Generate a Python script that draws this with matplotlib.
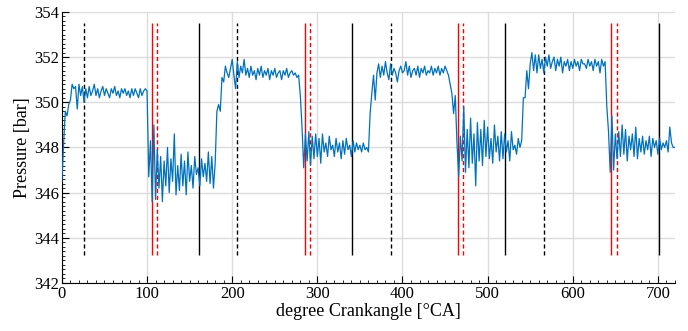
import matplotlib
matplotlib.use("Agg")
import matplotlib.pyplot as plt
import numpy as np
from matplotlib.ticker import MultipleLocator

# pressure samples every 2 degCA, 0..720
crank_angle = np.arange(0, 722, 2)
pressure = [
    346.5, 348.2, 349.6, 349.4, 349.9, 350.1, 350.8, 350.6, 350.7, 349.7,
    350.8, 350.3, 350.7, 350.0, 350.6, 350.2, 350.7, 350.3, 350.5, 350.8,
    350.3, 350.6, 350.2, 350.5, 350.7, 350.3, 350.6, 350.4, 350.2, 350.6,
    350.4, 350.7, 350.3, 350.5, 350.2, 350.6, 350.4, 350.6, 350.3, 350.5,
    350.2, 350.6, 350.3, 350.6, 350.4, 350.2, 350.6, 350.3, 350.5, 350.6,
    350.5, 346.7, 348.3, 345.6, 349.0, 345.7, 347.9, 346.2, 347.6, 345.6,
    347.4, 346.3, 348.0, 346.0, 347.5, 346.5, 348.6, 345.9, 347.2, 346.1,
    347.7, 346.3, 347.4, 345.9, 347.8, 346.5, 347.2, 346.2, 347.6, 346.8,
    347.1, 346.3, 347.5, 346.7, 347.3, 346.5, 347.8, 346.4, 347.6, 346.2,
    347.3, 349.6, 349.9, 349.6, 351.1, 350.9, 351.6, 351.3, 351.1, 351.5,
    351.9, 351.2, 350.6, 351.8, 351.1, 351.6, 351.3, 351.9, 351.2, 351.5,
    351.1, 351.6, 351.2, 351.4, 351.0, 351.5, 351.2, 351.6, 351.1, 351.4,
    351.2, 351.5, 351.0, 351.4, 351.2, 351.5, 351.1, 351.3, 351.4, 351.0,
    351.4, 351.2, 351.5, 351.1, 351.3, 351.4, 351.2, 351.3, 351.1, 351.2,
    350.3, 348.9, 347.1, 348.6, 347.4, 348.7, 347.2, 348.5, 347.5, 348.6,
    347.6, 348.4, 347.3, 348.6, 347.8, 348.2, 347.6, 348.5, 347.9, 348.1,
    347.6, 348.4, 347.8, 348.2, 347.5, 348.3, 347.7, 348.4, 347.9, 348.1,
    347.6, 348.3, 347.8, 348.2, 347.9, 348.1, 347.8, 348.2, 347.9, 348.0,
    347.8, 349.5, 350.4, 351.2, 350.1, 351.3, 351.7, 351.1, 351.6, 351.2,
    351.8, 351.3, 351.0, 351.7, 351.2, 351.5, 351.3, 350.9, 351.4, 351.6,
    351.3, 351.4, 351.8, 351.2, 351.6, 351.1, 351.4, 351.5, 351.2, 351.6,
    351.1, 351.5, 351.3, 351.6, 351.2, 351.4, 351.3, 351.6, 351.2, 351.5,
    351.3, 351.6, 351.2, 351.5, 351.3, 351.6, 351.4, 351.2, 350.8, 350.4,
    349.5, 350.3, 348.2, 346.7, 348.5, 347.4, 349.8, 346.9, 348.8, 347.1,
    349.3, 347.3, 348.6, 346.3, 349.1, 347.4, 348.8, 347.2, 349.2, 347.6,
    348.9, 347.5, 348.4, 347.3, 349.0, 347.8, 348.5, 347.4, 348.7, 347.5,
    348.6, 347.8, 348.3, 347.4, 348.7, 347.9, 348.1, 347.7, 348.4, 348.0,
    348.3, 350.2, 350.2, 351.4, 350.6, 351.7, 352.2, 351.4, 352.1, 351.3,
    352.1, 351.5, 351.9, 351.3, 352.0, 351.6, 352.1, 351.5, 351.8, 352.0,
    351.4, 351.9, 351.6, 352.0, 351.3, 351.8, 351.6, 351.9, 351.4, 351.8,
    351.5, 351.9, 351.6, 351.8, 351.4, 351.9, 351.7, 351.7, 351.5, 351.9,
    351.6, 351.8, 351.4, 351.9, 351.6, 351.8, 351.3, 351.9, 351.6, 351.8,
    349.8, 348.7, 346.9, 349.4, 347.0, 348.6, 347.5, 348.7, 347.6, 349.0,
    347.7, 348.8, 347.4, 348.5, 347.9, 348.6, 347.6, 348.9, 347.5, 348.4,
    347.8, 348.5, 347.7, 348.3, 347.9, 348.5, 347.6, 348.4, 348.0, 348.3,
    347.7, 348.4, 347.9, 348.2, 348.0, 348.3, 347.8, 348.9, 348.2, 348.0,
    348.0,
]

# event markers per cycle [degCA]
black_dashed = [26, 206, 386, 566]
red_solid = [105.5, 285.5, 465.5, 645.5]
red_dashed = [111.5, 291.5, 471.5, 651.5]
black_solid = [161, 341, 521, 701]
marker_span = (343.25, 353.5)

plt.rcParams["font.family"] = ["Liberation Serif", "DejaVu Serif"]

fig = plt.figure(figsize=(6.88, 3.31), dpi=100)
ax = fig.add_axes([0.090, 0.145, 0.891, 0.819])

ax.plot(crank_angle, pressure, color="#0072BD", lw=0.9, zorder=3)

ax.vlines(black_dashed, *marker_span, colors="black", linestyles=(0, (3, 2)), lw=1.0, zorder=2)
ax.vlines(red_solid, *marker_span, colors="red", lw=1.0, zorder=2)
ax.vlines(red_dashed, *marker_span, colors="red", linestyles=(0, (3, 2)), lw=1.0, zorder=2)
ax.vlines(black_solid, *marker_span, colors="black", lw=1.0, zorder=2)

ax.set_xlim(0, 720)
ax.set_ylim(342, 354)
ax.xaxis.set_major_locator(MultipleLocator(100))
ax.xaxis.set_minor_locator(MultipleLocator(10))
ax.yaxis.set_major_locator(MultipleLocator(2))
ax.yaxis.set_minor_locator(MultipleLocator(0.2))
ax.tick_params(which="both", direction="in", labelsize=12, pad=2)
ax.tick_params(which="major", length=5)
ax.tick_params(which="minor", length=2.5)
ax.grid(True, which="major", color="#dcdcdc", lw=1.0, zorder=0)
ax.spines["top"].set_visible(False)
ax.spines["right"].set_visible(False)

ax.set_xlabel("degree Crankangle [°CA]", fontsize=13, labelpad=1)
ax.set_ylabel("Pressure [bar]", fontsize=13, labelpad=2)

fig.savefig("out.png", dpi=100)
